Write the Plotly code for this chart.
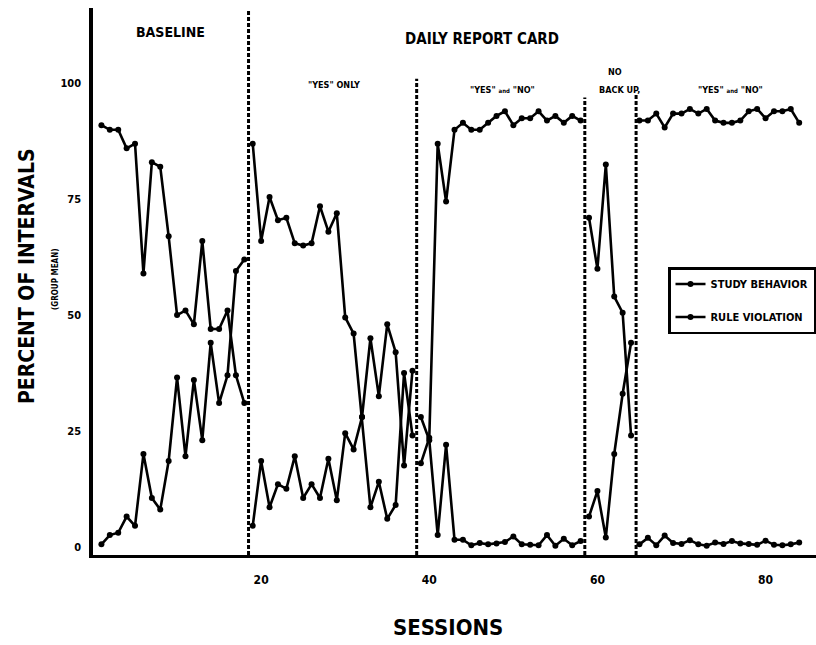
import plotly.graph_objects as go

# ---------------- data ----------------
sessions = list(range(1, 85))

study_behavior = [
    # baseline 1-18
    91, 90, 90, 86, 87, 59, 83, 82, 67, 50, 51, 48, 66, 47, 47, 51, 37, 31,
    # "YES" only 19-38
    87, 66, 75.5, 70.5, 71, 65.5, 65, 65.5, 73.5, 68, 72, 49.5, 46, 28, 8.5, 14, 6, 9, 37.5, 24,
    # "YES" and "NO" 39-58
    18, 23.5, 87, 74.5, 90, 91.5, 90, 90, 91.5, 93, 94, 91, 92.5, 92.5, 94, 92, 93, 91.5, 93, 92,
    # no back up 59-64
    71, 60, 82.5, 54, 50.5, 24,
    # "YES" and "NO" 65-84
    92, 92, 93.5, 90.5, 93.5, 93.5, 94.5, 93.5, 94.5, 92, 91.5, 91.5, 92, 94, 94.5, 92.5, 94, 94, 94.5, 91.5,
]

rule_violation = [
    0.5, 2.5, 3, 6.5, 4.5, 20, 10.5, 8, 18.5, 36.5, 19.5, 36, 23, 44, 31, 37, 59.5, 62,
    4.5, 18.5, 8.5, 13.5, 12.5, 19.5, 10.5, 13.5, 10.5, 19, 10, 24.5, 21, 28, 45, 32.5, 48, 42, 17.5, 38,
    28, 23, 2.5, 22, 1.5, 1.5, 0.3, 0.8, 0.5, 0.7, 1, 2.2, 0.5, 0.4, 0.3, 2.5, 0.2, 1.7, 0.3, 1.2,
    6.5, 12, 2, 20, 33, 44,
    0.5, 1.9, 0.3, 2.4, 0.8, 0.6, 1.4, 0.5, 0.2, 0.9, 0.6, 1.2, 0.7, 0.6, 0.4, 1.3, 0.4, 0.3, 0.5, 0.9,
]

phase_breaks = [18.5, 38.5, 58.5, 64.6]
phase_line_tops = [116, 101, 97, 97.5]
y_ticks = [0, 25, 50, 75, 100]
x_ticks = [20, 40, 60, 80]
series_names = ["STUDY BEHAVIOR", "RULE VIOLATION"]

Y_MIN, Y_MAX = -1.8, 116.3
X_MIN, X_MAX = 0, 86

FONT = "DejaVu Sans Condensed, Liberation Sans Narrow, Roboto, DejaVu Sans, sans-serif"


def split_by_phase(xs, ys, breaks):
    """Insert None between sessions that straddle a phase line."""
    ox, oy = [], []
    for i, (x, y) in enumerate(zip(xs, ys)):
        if i > 0 and any(xs[i - 1] < b < x for b in breaks):
            ox.append(None)
            oy.append(None)
        ox.append(x)
        oy.append(y)
    return ox, oy


fig = go.Figure()

for k, (name, vals) in enumerate(zip(series_names, [study_behavior, rule_violation])):
    xs, ys = split_by_phase(sessions, vals, phase_breaks)
    fig.add_trace(go.Scatter(
        x=xs, y=ys, name=name, mode="lines+markers",
        line=dict(color="black", width=2.6),
        marker=dict(color="black", size=6, symbol="circle"),
        connectgaps=False, legendgroup=f"g{k}",
    ))

# phase change lines
for b, top in zip(phase_breaks, phase_line_tops):
    fig.add_shape(type="line", xref="x", yref="y", x0=b, x1=b, y0=Y_MIN, y1=top,
                  line=dict(color="black", width=3, dash="4px,2px"))

W, H = 816, 645
ML, MR, MT, MB = 93, 0, 8, 90
PW, PH = W - ML - MR, H - MT - MB


def px(xp):
    return (xp - ML) / PW


def py(yp):
    return (H - MB - yp) / PH


def ann(text, xp, yp, size, angle=0):
    fig.add_annotation(text=text, xref="paper", yref="paper", x=px(xp), y=py(yp),
                       xanchor="center", yanchor="middle", showarrow=False, textangle=angle,
                       font=dict(family=FONT, size=size, color="black", weight="bold"))


AND = '<span style="font-size:6px">and</span>'
ann("BASELINE", 170, 32, 14)
ann("DAILY REPORT CARD", 482, 39, 15)
ann('"YES" ONLY', 334, 85, 9)
ann('"YES" ' + AND + ' "NO"', 502, 90, 9)
ann("NO", 615, 72, 9)
ann("BACK UP,", 619, 90, 9)
ann('"YES" ' + AND + ' "NO"', 730, 90, 9)
ann("PERCENT OF INTERVALS", 27, 276, 21, -90)
ann("(GROUP MEAN)", 55, 280, 8, -90)
ann("SESSIONS", 448, 627, 22)

fig.update_layout(
    width=W, height=H,
    margin=dict(l=ML, r=MR, t=MT, b=MB, autoexpand=False),
    paper_bgcolor="white", plot_bgcolor="white",
    font=dict(family=FONT, color="black"),
    showlegend=True,
    legend=dict(x=px(668), y=py(267), xanchor="left", yanchor="top",
                bordercolor="black", borderwidth=2.5, bgcolor="white",
                font=dict(family=FONT, size=11, color="black", weight="bold"),
                traceorder="grouped", tracegroupgap=14, itemwidth=30),
    xaxis=dict(range=[X_MIN, X_MAX], showgrid=False, zeroline=False,
               showline=True, linecolor="black", linewidth=3,
               tickmode="array", tickvals=x_ticks, ticks="",
               ticklabelstandoff=12,
               tickfont=dict(family=FONT, size=12, color="black", weight="bold")),
    yaxis=dict(range=[Y_MIN, Y_MAX], showgrid=False, zeroline=False,
               showline=True, linecolor="black", linewidth=3.5,
               tickmode="array", tickvals=y_ticks, ticks="",
               ticklabelstandoff=6,
               tickfont=dict(family=FONT, size=11, color="black", weight="bold")),
)

fig.write_html("out.html", config={"displayModeBar": False},
               post_script="document.body.style.margin='0';document.body.style.overflow='hidden';")
